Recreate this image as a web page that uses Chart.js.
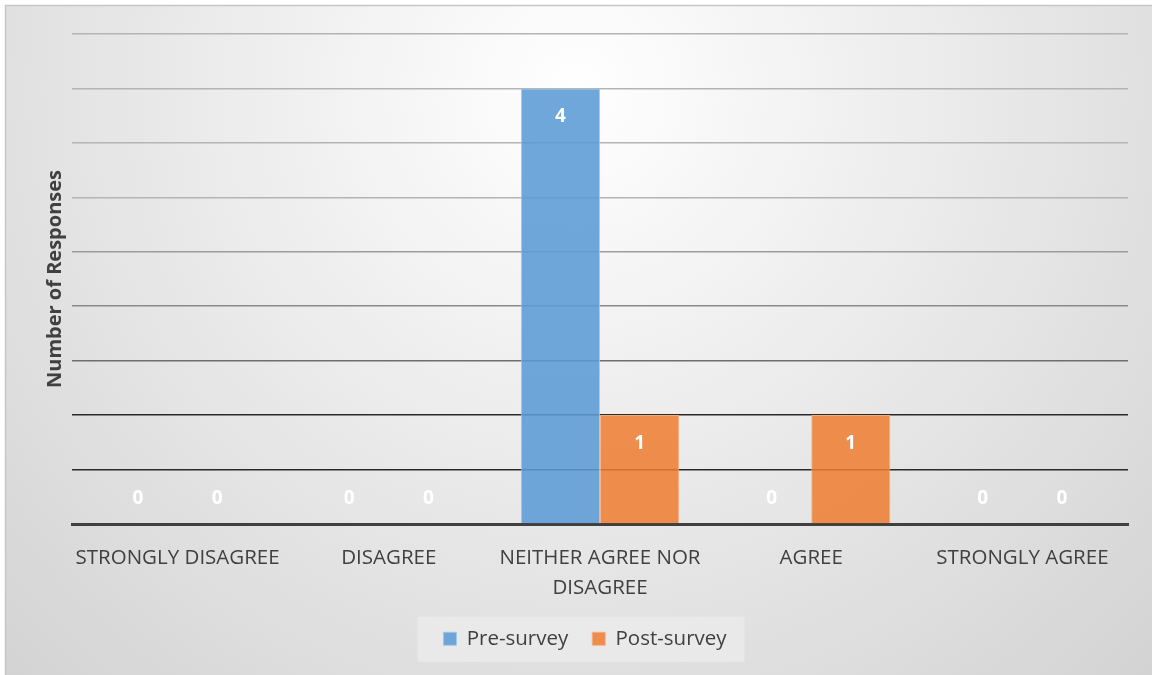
<!DOCTYPE html>
<html>
<head>
<meta charset="utf-8">
<script src="https://cdn.jsdelivr.net/npm/chart.js@4.4.1/dist/chart.umd.min.js"></script>
<style>
  html, body { margin: 0; padding: 0; background: #fff; }
  #wrap { width: 1152px; height: 675px; }
</style>
</head>
<body>
<div id="wrap"><canvas id="myChart" width="1152" height="675"></canvas></div>
<script>
const categories = ['STRONGLY DISAGREE', 'DISAGREE', ['NEITHER AGREE NOR', 'DISAGREE'], 'AGREE', 'STRONGLY AGREE'];
const preSurvey = [0, 0, 4, 0, 0];
const postSurvey = [0, 0, 1, 1, 0];
const yMax = 4.5;
const yStep = 0.5;

const FONT = 'Open Sans';
const PAD_BOTTOM = 16;
const LEGEND_SHIFT = 21;

// grid lines get darker towards the bottom, like the original picture
function gridColor(v) {
  if (v <= 0) return 'rgba(0,0,0,0)';
  if (v <= 1) return '#2a2a2a';
  if (v <= 1.5) return '#6e6e6e';
  if (v <= 2) return '#8a8a8a';
  if (v <= 2.5) return '#9c9c9c';
  return '#b4b4b4';
}

const bgPlugin = {
  id: 'bg',
  afterLayout(chart) {
    // legend sits a bit right of the centre in the original
    if (chart.legend) {
      chart.legend.left += LEGEND_SHIFT;
      chart.legend.right += LEGEND_SHIFT;
    }
  },
  beforeDraw(chart) {
    const c = chart.ctx;
    const w = chart.width, h = chart.height;
    c.save();
    const g = c.createRadialGradient(576, 90, 0, 576, 90, 820);
    g.addColorStop(0, '#ffffff');
    g.addColorStop(1, '#d3d3d3');
    c.fillStyle = g;
    c.fillRect(0, 0, w, h);
    c.fillStyle = '#ffffff';
    c.fillRect(0, 0, w, 5);
    c.fillRect(0, 0, 5, h);
    c.strokeStyle = '#c6c6c6';
    c.lineWidth = 1.5;
    c.beginPath();
    c.moveTo(5.5, h);
    c.lineTo(5.5, 5.5);
    c.lineTo(w, 5.5);
    c.stroke();

    // legend panel
    const hb = chart.legend && chart.legend.legendHitBoxes;
    if (hb && hb.length) {
      let l = Infinity, r = -Infinity, t = Infinity, b = -Infinity;
      hb.forEach(function (box) {
        l = Math.min(l, box.left);
        r = Math.max(r, box.left + box.width);
        t = Math.min(t, box.top);
        b = Math.max(b, box.top + box.height);
      });
      const cy = (t + b) / 2;
      c.fillStyle = 'rgba(240,240,240,0.55)';
      c.fillRect(l - 26, cy - 22, r - l + 44, 45);
    }
    c.restore();
  }
};

const labelPlugin = {
  id: 'valueLabels',
  afterDatasetsDraw(chart) {
    const c = chart.ctx;
    c.save();
    c.fillStyle = '#ffffff';
    c.font = 'bold 19px "' + FONT + '"';
    c.textAlign = 'center';
    c.textBaseline = 'middle';
    chart.data.datasets.forEach(function (ds, i) {
      const meta = chart.getDatasetMeta(i);
      meta.data.forEach(function (bar, j) {
        const v = ds.data[j];
        const y = v === 0 ? bar.base - 25 : bar.y + 28;
        c.fillText(String(v), bar.x, y);
      });
    });
    c.restore();
  }
};

const ctx = document.getElementById('myChart');

new Chart(ctx, {
  type: 'bar',
  data: {
    labels: categories,
    datasets: [{
      label: 'Pre-survey',
      data: preSurvey,
      backgroundColor: 'rgba(91,155,213,0.88)',
      borderColor: 'rgba(160,198,232,0.9)',
      borderWidth: 1
    }, {
      label: 'Post-survey',
      data: postSurvey,
      backgroundColor: 'rgba(237,125,49,0.86)',
      borderColor: 'rgba(246,176,130,0.9)',
      borderWidth: 1
    }]
  },
  plugins: [bgPlugin, labelPlugin],
  options: {
    responsive: false,
    animation: false,
    layout: { padding: { top: 34, right: 24, left: 0, bottom: PAD_BOTTOM } },
    datasets: {
      bar: { categoryPercentage: 0.75, barPercentage: 1.0 }
    },
    plugins: {
      tooltip: { enabled: false },
      legend: {
        position: 'bottom',
        labels: {
          boxWidth: 13,
          boxHeight: 13,
          padding: 24,
          color: '#404040',
          font: { size: 20.5, family: FONT }
        }
      }
    },
    scales: {
      y: {
        min: 0,
        max: yMax,
        afterFit(scale) { scale.width = 72; },
        ticks: { display: false, stepSize: yStep },
        border: { display: false },
        grid: {
          drawTicks: false,
          color: function (ctx) { return gridColor(ctx.tick.value); },
          lineWidth: 1.5
        },
        title: {
          display: true,
          text: 'Number of Responses',
          color: '#404040',
          font: { size: 20, weight: 'bold', family: FONT },
          padding: { top: 43, bottom: 0 }
        }
      },
      x: {
        afterFit(scale) {
          const lg = scale.chart.legend;
          const lh = lg ? lg.height : 40;
          scale.height = 675 - 524 - PAD_BOTTOM - lh;
        },
        grid: { display: false, drawTicks: false },
        border: { display: true, color: '#404040', width: 3 },
        ticks: {
          padding: 20,
          color: '#404040',
          maxRotation: 0,
          autoSkip: false,
          font: { size: 20.5, family: FONT, lineHeight: 1.42 }
        }
      }
    }
  }
});
</script>
</body>
</html>
